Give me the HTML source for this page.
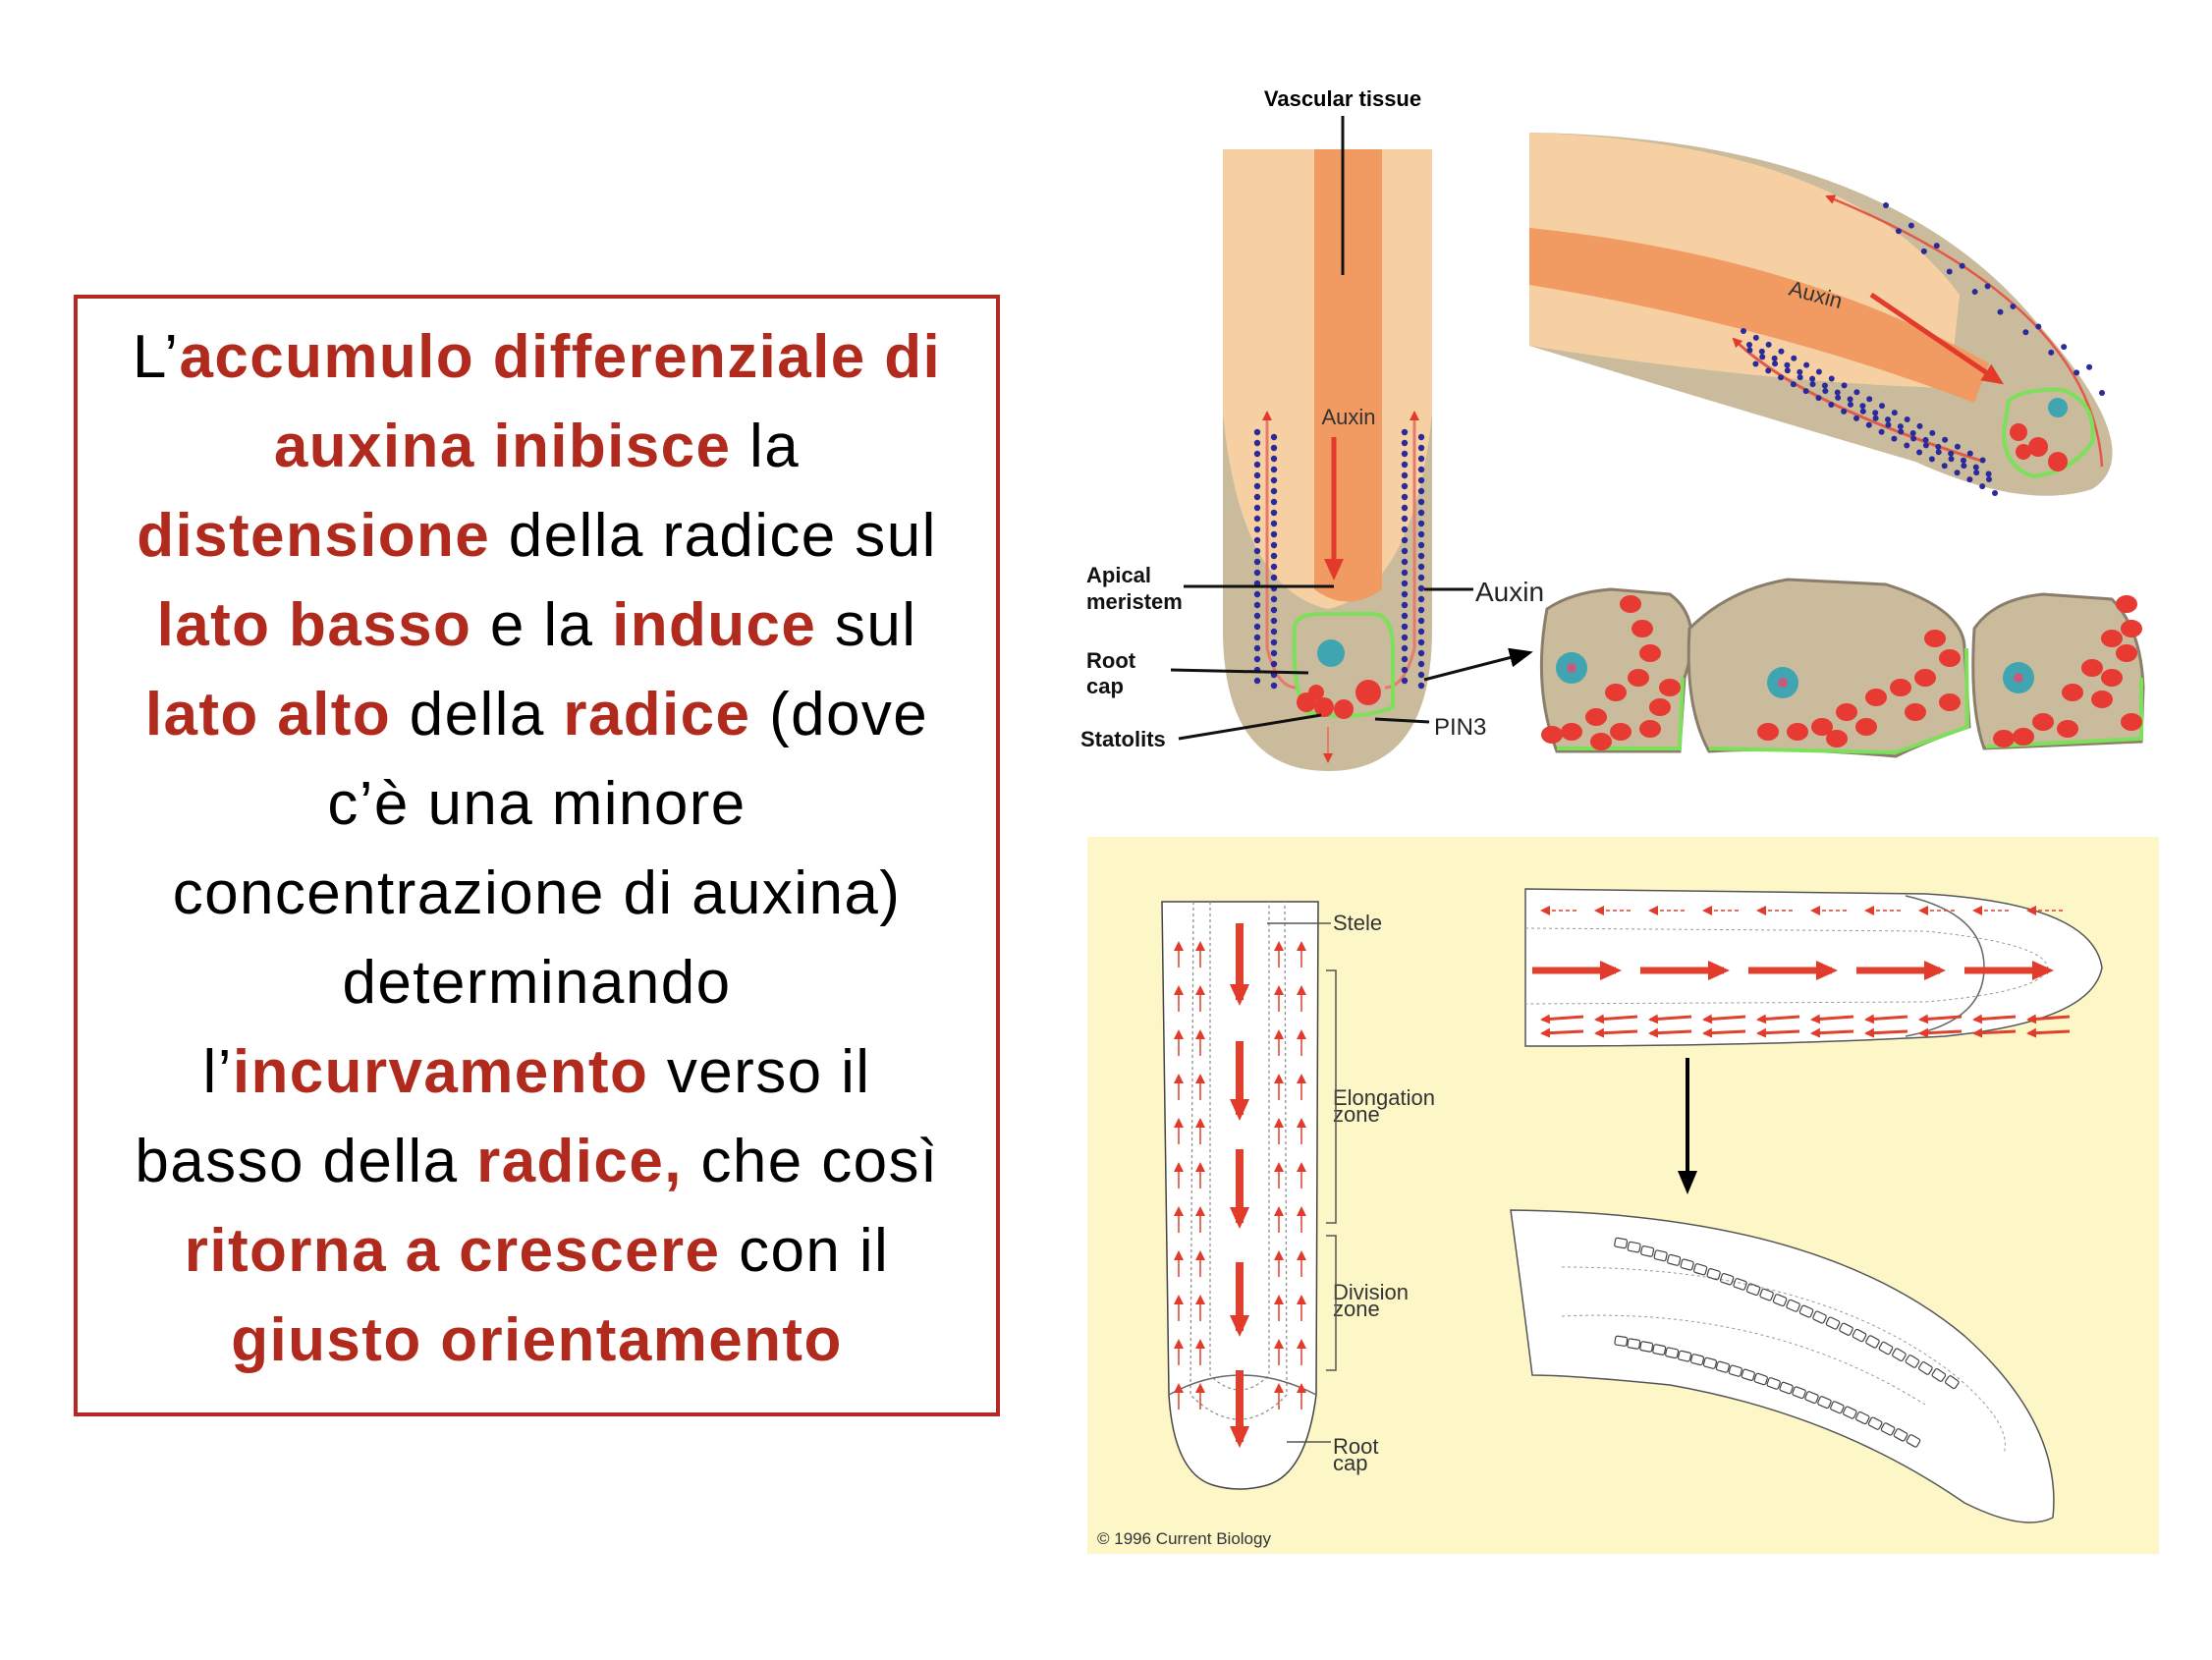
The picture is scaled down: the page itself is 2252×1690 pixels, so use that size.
<!DOCTYPE html>
<html><head><meta charset="utf-8"><style>
html,body{margin:0;padding:0;background:#fff;}
body{width:2252px;height:1690px;position:relative;overflow:hidden;font-family:"Liberation Sans",Arial,sans-serif;}
#box{position:absolute;left:75px;top:300px;width:935px;height:1134px;border:4px solid #b42a22;}
#txt{position:absolute;left:75px;top:318px;width:943px;text-align:center;font-size:62px;line-height:91px;color:#000;white-space:nowrap;letter-spacing:1.4px;}
#txt b{color:#b02a1e;}
svg{position:absolute;left:0;top:0;}
</style></head><body>
<div id="box"></div>
<div id="txt">L’<b>accumulo differenziale di</b><br><b>auxina inibisce</b> la<br><b>distensione</b> della radice sul<br><b>lato basso</b> e la <b>induce</b> sul<br><b>lato alto</b> della <b>radice</b> (dove<br>c’è una minore<br>concentrazione di auxina)<br>determinando<br>l’<b>incurvamento</b> verso il<br>basso della <b>radice,</b> che così<br><b>ritorna a crescere</b> con il<br><b>giusto orientamento</b></div>
<svg width="2252" height="1690" viewBox="0 0 2252 1690" id="s">
<defs>
<marker id="ah" markerUnits="userSpaceOnUse" markerWidth="22" markerHeight="20" refX="16" refY="10" orient="auto-start-reverse"><path d="M0,0 L22,10 L0,20 z" fill="#e23b2b"/></marker>
<marker id="as" markerUnits="userSpaceOnUse" markerWidth="10" markerHeight="10" refX="8" refY="5" orient="auto-start-reverse"><path d="M0,0 L10,5 L0,10 z" fill="#e23b2b"/></marker>
<marker id="ahk" markerUnits="userSpaceOnUse" markerWidth="24" markerHeight="20" refX="18" refY="10" orient="auto"><path d="M0,0 L24,10 L0,20 z" fill="#000"/></marker>
</defs>
<path d="M1245,152 L1458,152 L1458,640 Q1458,785 1352,785 Q1245,785 1245,640 Z" fill="#c9bb9c"/>
<path d="M1245,152 L1458,152 L1458,420 Q1440,600 1352,620 Q1262,600 1245,420 Z" fill="#f6d0a2"/>
<path d="M1338,152 L1407,152 L1407,600 Q1372,625 1338,600 Z" fill="#f19a62"/>
<line x1="1367" y1="118" x2="1367" y2="280" stroke="#111" stroke-width="3"/>
<text x="1367" y="108" font-size="22" font-weight="bold" text-anchor="middle">Vascular tissue</text>
<text x="1373" y="432" font-size="22" text-anchor="middle" fill="#333">Auxin</text>
<line x1="1358" y1="445" x2="1358" y2="585" stroke="#e23b2b" stroke-width="5" marker-end="url(#ah)"/>
<path d="M1290,420 L1290,660 Q1300,700 1320,700" fill="none" stroke="#e87a6a" stroke-width="3" marker-start="url(#as)"/>
<path d="M1440,420 L1440,660 Q1430,700 1410,700" fill="none" stroke="#e87a6a" stroke-width="3" marker-start="url(#as)"/>
<path d="M1318,638 Q1320,625 1345,625 L1400,625 Q1418,628 1418,660 L1418,720 Q1380,735 1330,725 Q1315,700 1318,638Z" fill="none" stroke="#7de05a" stroke-width="4"/>
<circle cx="1355" cy="665" r="14" fill="#3fa5b0"/>
<g id="dotsL"></g>
<g fill="#e63a33"><circle cx="1330" cy="715" r="10"/><circle cx="1348" cy="720" r="10"/><circle cx="1368" cy="722" r="10"/><circle cx="1393" cy="705" r="13"/><circle cx="1340" cy="705" r="8"/></g>
<line x1="1352" y1="740" x2="1352" y2="775" stroke="#e87a6a" stroke-width="2" marker-end="url(#as)"/>
<g font-size="22" font-weight="bold" fill="#111">
<text x="1106" y="593">Apical</text><text x="1106" y="620">meristem</text>
<text x="1106" y="680">Root</text><text x="1106" y="706">cap</text>
<text x="1100" y="760">Statolits</text>
</g>
<g stroke="#111" stroke-width="3" fill="none">
<line x1="1205" y1="597" x2="1358" y2="597"/>
<line x1="1192" y1="682" x2="1332" y2="685"/>
<line x1="1200" y1="752" x2="1345" y2="728"/>
<line x1="1450" y1="600" x2="1500" y2="600"/>
<line x1="1400" y1="732" x2="1455" y2="735"/>
<line x1="1450" y1="692" x2="1555" y2="665" marker-end="url(#ahk)"/>
</g>
<text x="1502" y="612" font-size="28" fill="#222">Auxin</text>
<text x="1460" y="748" font-size="24" fill="#222">PIN3</text>
<path d="M1557,135 Q1920,140 2075,330 Q2190,460 2130,498 Q2060,520 1950,470 Q1780,420 1557,352 Z" fill="#c9bb9c"/>
<path d="M1557,135 Q1880,145 1995,300 L1985,395 Q1800,390 1557,352 Z" fill="#f6d0a2"/>
<path d="M1557,232 Q1830,260 2025,370 L2010,410 Q1800,330 1557,290 Z" fill="#f19a62"/>
<text x="1820" y="300" font-size="22" fill="#333" transform="rotate(15 1820 300)">Auxin</text>
<line x1="1905" y1="300" x2="2035" y2="388" stroke="#e23b2b" stroke-width="5" marker-end="url(#ah)"/>
<path d="M2140,475 Q2130,310 1860,200" fill="none" stroke="#e05a4a" stroke-width="2.5" marker-end="url(#as)"/>
<path d="M2020,470 Q1830,410 1765,345" fill="none" stroke="#e05a4a" stroke-width="3" marker-end="url(#as)"/>
<path d="M2045,408 Q2060,395 2100,397 Q2135,410 2130,450 Q2110,480 2070,485 Q2040,475 2040,440 Z" fill="#c9bb9c" stroke="#7de05a" stroke-width="4"/>
<circle cx="2095" cy="415" r="10" fill="#3fa5b0"/>
<g fill="#e63a33"><circle cx="2055" cy="440" r="9"/><circle cx="2075" cy="455" r="10"/><circle cx="2095" cy="470" r="10"/><circle cx="2060" cy="460" r="8"/></g>
<g id="dotsB"></g>
<g stroke="#8a7e6a" stroke-width="3" fill="#c9bb9c">
<path d="M1575,620 Q1600,603 1640,600 L1700,605 Q1735,630 1715,690 L1710,765 L1585,765 Q1560,700 1575,620Z"/>
<path d="M1720,640 Q1760,600 1820,590 L1920,595 Q2000,620 2000,660 L2005,740 Q1960,755 1930,770 Q1820,760 1740,765 Q1715,720 1720,640Z"/>
<path d="M2010,640 Q2030,610 2080,605 L2150,610 Q2180,640 2182,700 L2180,755 L2020,762 Q2005,720 2010,640Z"/>
</g>
<g stroke="#7de05a" stroke-width="4" fill="none">
<path d="M1585,762 L1710,762 L1713,690"/><path d="M1740,762 L1930,766 L2003,740 L2002,660"/><path d="M2022,760 L2180,752 L2180,690"/>
</g>
<g fill="#3fa5b0"><circle cx="1600" cy="680" r="16"/><circle cx="1815" cy="695" r="16"/><circle cx="2055" cy="690" r="16"/></g>
<g fill="#c85a80"><circle cx="1600" cy="680" r="5"/><circle cx="1815" cy="695" r="5"/><circle cx="2055" cy="690" r="5"/></g>
<g id="redC" fill="#e63a33"></g>
<rect x="1107" y="852" width="1091" height="730" fill="#fdf7c8"/>
<path d="M1183,918 L1342,918 L1340,1420 Q1330,1500 1290,1512 Q1262,1520 1235,1512 Q1195,1500 1190,1420 Z" fill="#fff" stroke="#444" stroke-width="1.5"/>
<path d="M1215,918 L1212,1420 Q1262,1470 1310,1420 L1308,918" fill="none" stroke="#888" stroke-width="1.2" stroke-dasharray="3,3"/>
<path d="M1232,918 L1232,1400 Q1262,1430 1292,1400 L1292,918" fill="none" stroke="#888" stroke-width="1.2" stroke-dasharray="3,3"/>
<path d="M1190,1420 Q1262,1380 1340,1420" fill="none" stroke="#666" stroke-width="1.5"/>
<g id="stele"></g>
<g id="smallup"></g>
<g font-size="22" fill="#333">
<text x="1357" y="947">Stele</text>
<text x="1357" y="1125">Elongation</text><text x="1357" y="1142">zone</text>
<text x="1357" y="1323">Division</text><text x="1357" y="1340">zone</text>
<text x="1357" y="1480">Root</text><text x="1357" y="1497">cap</text>
</g>
<g stroke="#555" stroke-width="1.5" fill="none">
<line x1="1290" y1="940" x2="1355" y2="940"/>
<path d="M1350,988 L1360,988 L1360,1245 L1350,1245"/>
<path d="M1350,1258 L1360,1258 L1360,1395 L1350,1395"/>
<line x1="1310" y1="1468" x2="1355" y2="1468"/>
</g>
<text x="1117" y="1572" font-size="17" fill="#333">© 1996 Current Biology</text>
<path d="M1553,905 L1960,910 Q2130,920 2140,985 Q2130,1040 1980,1055 Q1800,1065 1553,1065 Z" fill="#fff" stroke="#555" stroke-width="1.5"/>
<path d="M1553,945 L1960,948 Q2080,960 2085,985 Q2080,1010 1960,1020 L1553,1022" fill="none" stroke="#999" stroke-dasharray="3,3"/>
<path d="M1940,912 Q2020,930 2020,985 Q2020,1040 1940,1055" fill="none" stroke="#666" stroke-width="1.5"/>
<g id="hz"></g>
<line x1="1718" y1="1077" x2="1718" y2="1210" stroke="#000" stroke-width="4" marker-end="url(#ahk)"/>
<path d="M1538,1232 Q1850,1235 2000,1360 Q2100,1450 2090,1545 Q2060,1560 2000,1530 Q1870,1440 1700,1410 Q1600,1400 1560,1400 Q1550,1320 1538,1232Z" fill="#fff" stroke="#555" stroke-width="1.5"/>
<path d="M1590,1290 Q1850,1290 1990,1400 Q2050,1450 2040,1480" fill="none" stroke="#999" stroke-dasharray="3,3"/>
<path d="M1590,1340 Q1800,1330 1960,1430" fill="none" stroke="#999" stroke-dasharray="3,3"/>
<g id="cellrow" fill="none" stroke="#444" stroke-width="1.2"></g>
</svg>
<script>
var ns="http://www.w3.org/2000/svg";
function el(p,t,a){var e=document.createElementNS(ns,t);for(var k in a)e.setAttribute(k,a[k]);document.getElementById(p).appendChild(e);return e;}
for(var y=440;y<700;y+=11){el("dotsL","circle",{cx:1280,cy:y,r:3.2,fill:"#2a2a9a"});el("dotsL","circle",{cx:1297,cy:y+5,r:3.2,fill:"#2a2a9a"});
el("dotsL","circle",{cx:1430,cy:y,r:3.2,fill:"#2a2a9a"});el("dotsL","circle",{cx:1447,cy:y+5,r:3.2,fill:"#2a2a9a"});}
for(var i=0;i<40;i++){var t=i/39;var x=1775+t*250,y=345+t*135+ (i%2?8:-8);el("dotsB","circle",{cx:x,cy:y,r:3,fill:"#2a2a9a"});el("dotsB","circle",{cx:x+6,cy:y+14,r:3,fill:"#2a2a9a"});}
for(var i=0;i<18;i++){var t=i/17;el("dotsB","circle",{cx:1920+t*220,cy:215+t*175+(i%2?10:-6),r:3,fill:"#2a2a9a"});}
var rc=[[1660,615],[1672,640],[1680,665],[1668,690],[1645,705],[1625,730],[1600,745],[1650,745],[1690,720],[1700,700],[1580,748],[1630,755],[1680,742],
[1970,650],[1985,670],[1960,690],[1935,700],[1910,710],[1880,725],[1855,740],[1830,745],[1900,740],[1950,725],[1985,715],[1870,752],[1800,745],
[2165,615],[2170,640],[2150,650],[2165,665],[2130,680],[2150,690],[2110,705],[2140,712],[2080,735],[2105,742],[2060,750],[2040,752],[2170,735]];
rc.forEach(function(p){el("redC","ellipse",{cx:p[0],cy:p[1],rx:11,ry:9});});
[[940,1018],[1060,1135],[1170,1245],[1285,1355],[1395,1468]].forEach(function(s){el("stele","line",{x1:1262,y1:s[0],x2:1262,y2:s[1],stroke:"#e0402e","stroke-width":8,"marker-end":"url(#ah)"});});
for(var y=960;y<1440;y+=45){[1200,1222,1302,1325].forEach(function(x){el("smallup","line",{x1:x,y1:y+25,x2:x,y2:y,stroke:"#e0402e","stroke-width":1.5,"marker-end":"url(#as)"});});}
for(var x=1560;x<2100;x+=110){el("hz","line",{x1:x,y1:988,x2:x+85,y2:988,stroke:"#e0402e","stroke-width":7,"marker-end":"url(#ah)"});}
for(var x=1570;x<2080;x+=55){el("hz","line",{x1:x+35,y1:927,x2:x,y2:927,stroke:"#e0402e","stroke-width":1.5,"stroke-dasharray":"4,3","marker-end":"url(#as)"});
el("hz","line",{x1:x+42,y1:1035,x2:x,y2:1038,stroke:"#e0402e","stroke-width":3,"marker-end":"url(#as)"});
el("hz","line",{x1:x+42,y1:1050,x2:x,y2:1052,stroke:"#e0402e","stroke-width":3,"marker-end":"url(#as)"});}
for(var i=0;i<26;i++){var t=i/25;var x=1645+t*340,y=1260+t*100+t*t*40;el("cellrow","rect",{x:x,y:y,width:12,height:9,rx:2,transform:"rotate("+(10+t*25)+" "+x+" "+y+")"});}
for(var i=0;i<24;i++){var t=i/23;var x=1645+t*300,y=1360+t*60+t*t*40;el("cellrow","rect",{x:x,y:y,width:12,height:9,rx:2,transform:"rotate("+(8+t*22)+" "+x+" "+y+")"});}
</script>
</body></html>
